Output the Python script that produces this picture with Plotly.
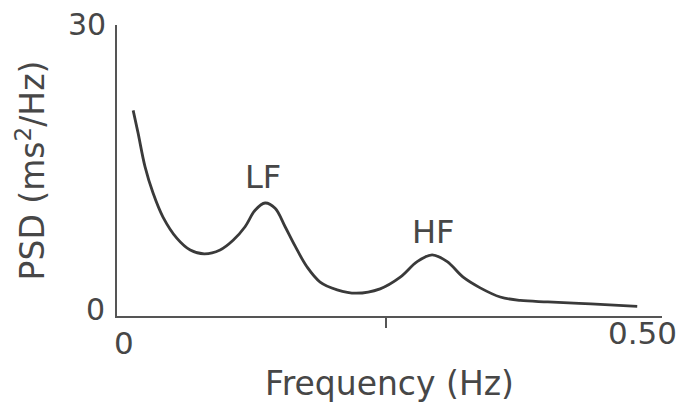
import plotly.graph_objects as go

# Data (frequency in Hz, PSD in ms^2/Hz)
freq = [0.015, 0.0195, 0.026, 0.0334, 0.0427, 0.0557, 0.068, 0.081, 0.0957,
        0.1078, 0.1189, 0.1282, 0.1375, 0.1468, 0.1561, 0.1654, 0.1765, 0.1886,
        0.2044, 0.222, 0.2443, 0.263, 0.2787, 0.2926, 0.3066, 0.3214, 0.3372,
        0.3558, 0.3744, 0.40, 0.44, 0.483]
psd = [21.2, 18.9, 15.4, 12.7, 10.2, 8.0, 6.8, 6.4, 6.8,
       7.8, 9.2, 10.9, 11.65, 11.1, 9.2, 7.2, 5.05, 3.5,
       2.7, 2.35, 2.8, 4.0, 5.6, 6.3, 5.6, 4.0, 2.9,
       1.96, 1.6, 1.45, 1.25, 1.0]

band_labels = ["LF", "HF"]
band_x = [0.1357, 0.2936]
band_y = [14.3, 8.7]

x_ticklabels = ["0", "0.50"]
x_tickvals = [0.0, 0.5]
y_ticklabels = ["0", "30"]
y_tickvals = [0, 30]

INK = "#3a3a3a"
TXT = "#474747"
FONT = "DejaVu Sans"

fig = go.Figure()
fig.add_trace(go.Scatter(
    x=freq, y=psd, mode="lines",
    line=dict(color=INK, width=2.8, shape="spline", smoothing=1.0),
    hoverinfo="skip", showlegend=False,
))

annotations = []
for t, xv, yv in zip(band_labels, band_x, band_y):
    annotations.append(dict(x=xv, y=yv, xref="x", yref="y", text=t, showarrow=False,
                            font=dict(family=FONT, size=32, color=TXT),
                            xanchor="center", yanchor="middle"))

# y tick labels
y_shifts = [(-10, 7), (-9, 1)]
for t, v, (dx, dy) in zip(y_ticklabels, y_tickvals, y_shifts):
    annotations.append(dict(x=0, y=v, xref="x", yref="y", text=t, showarrow=False,
                            font=dict(family=FONT, size=30, color=TXT),
                            xanchor="right", yanchor="middle", xshift=dx, yshift=dy))
# x tick labels
x_shifts = [(7, -27), (-13, -17)]
for t, v, (dx, dy) in zip(x_ticklabels, x_tickvals, x_shifts):
    annotations.append(dict(x=v, y=0, xref="x", yref="y", text=t, showarrow=False,
                            font=dict(family=FONT, size=31, color=TXT),
                            xanchor="center", yanchor="middle", xshift=dx, yshift=dy))

fig.update_layout(
    width=685, height=411,
    margin=dict(l=117, r=23, t=25, b=95),
    paper_bgcolor="white", plot_bgcolor="white",
    annotations=annotations,
    xaxis=dict(
        range=[0, 0.506], showgrid=False, zeroline=False,
        showline=True, linecolor="#555555", linewidth=2,
        tickvals=[0.25], ticks="outside", ticklen=10, tickwidth=2, tickcolor="#555555",
        showticklabels=False,
        title=dict(text="Frequency (Hz)", font=dict(family=FONT, size=33, color=TXT), standoff=45),
    ),
    yaxis=dict(
        range=[0, 30], showgrid=False, zeroline=False,
        showline=True, linecolor="#555555", linewidth=2,
        tickvals=[30], ticks="inside", ticklen=17, tickwidth=2, tickcolor="#555555",
        showticklabels=False,
        title=dict(text="PSD (ms<sup>2</sup>/Hz)", font=dict(family=FONT, size=33, color=TXT), standoff=60),
    ),
)

fig.write_html("out.html", config={"displayModeBar": False},
               post_script="document.body.style.margin='0';")
